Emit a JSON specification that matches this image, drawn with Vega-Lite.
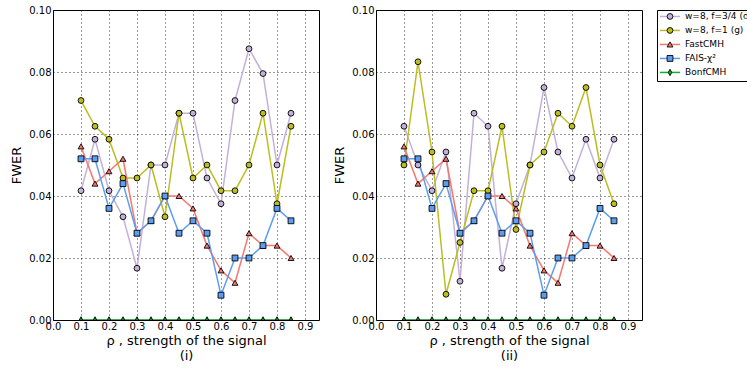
{
  "$schema": "https://vega.github.io/schema/vega-lite/v6.json",
  "padding": {"left": 10, "top": 3, "right": 0, "bottom": 0},
  "background": "white",
  "spacing": 13,
  "datasets": {
    "fwer": [
      {"p":"i","s":"w=8, f=3/4 (d)","r":0.10,"v":0.0417},{"p":"i","s":"w=8, f=3/4 (d)","r":0.15,"v":0.0583},{"p":"i","s":"w=8, f=3/4 (d)","r":0.20,"v":0.0417},{"p":"i","s":"w=8, f=3/4 (d)","r":0.25,"v":0.0333},{"p":"i","s":"w=8, f=3/4 (d)","r":0.30,"v":0.0167},{"p":"i","s":"w=8, f=3/4 (d)","r":0.35,"v":0.05},{"p":"i","s":"w=8, f=3/4 (d)","r":0.40,"v":0.05},{"p":"i","s":"w=8, f=3/4 (d)","r":0.45,"v":0.0667},{"p":"i","s":"w=8, f=3/4 (d)","r":0.50,"v":0.0667},{"p":"i","s":"w=8, f=3/4 (d)","r":0.55,"v":0.0458},{"p":"i","s":"w=8, f=3/4 (d)","r":0.60,"v":0.0375},{"p":"i","s":"w=8, f=3/4 (d)","r":0.65,"v":0.0708},{"p":"i","s":"w=8, f=3/4 (d)","r":0.70,"v":0.0875},{"p":"i","s":"w=8, f=3/4 (d)","r":0.75,"v":0.0795},{"p":"i","s":"w=8, f=3/4 (d)","r":0.80,"v":0.05},{"p":"i","s":"w=8, f=3/4 (d)","r":0.85,"v":0.0667},
      {"p":"i","s":"w=8, f=1 (g)","r":0.10,"v":0.0708},{"p":"i","s":"w=8, f=1 (g)","r":0.15,"v":0.0625},{"p":"i","s":"w=8, f=1 (g)","r":0.20,"v":0.0583},{"p":"i","s":"w=8, f=1 (g)","r":0.25,"v":0.0458},{"p":"i","s":"w=8, f=1 (g)","r":0.30,"v":0.0458},{"p":"i","s":"w=8, f=1 (g)","r":0.35,"v":0.05},{"p":"i","s":"w=8, f=1 (g)","r":0.40,"v":0.0333},{"p":"i","s":"w=8, f=1 (g)","r":0.45,"v":0.0667},{"p":"i","s":"w=8, f=1 (g)","r":0.50,"v":0.0458},{"p":"i","s":"w=8, f=1 (g)","r":0.55,"v":0.05},{"p":"i","s":"w=8, f=1 (g)","r":0.60,"v":0.0417},{"p":"i","s":"w=8, f=1 (g)","r":0.65,"v":0.0417},{"p":"i","s":"w=8, f=1 (g)","r":0.70,"v":0.05},{"p":"i","s":"w=8, f=1 (g)","r":0.75,"v":0.0667},{"p":"i","s":"w=8, f=1 (g)","r":0.80,"v":0.0375},{"p":"i","s":"w=8, f=1 (g)","r":0.85,"v":0.0625},
      {"p":"i","s":"FastCMH","r":0.10,"v":0.056},{"p":"i","s":"FastCMH","r":0.15,"v":0.044},{"p":"i","s":"FastCMH","r":0.20,"v":0.048},{"p":"i","s":"FastCMH","r":0.25,"v":0.052},{"p":"i","s":"FastCMH","r":0.30,"v":0.028},{"p":"i","s":"FastCMH","r":0.35,"v":0.032},{"p":"i","s":"FastCMH","r":0.40,"v":0.04},{"p":"i","s":"FastCMH","r":0.45,"v":0.04},{"p":"i","s":"FastCMH","r":0.50,"v":0.036},{"p":"i","s":"FastCMH","r":0.55,"v":0.024},{"p":"i","s":"FastCMH","r":0.60,"v":0.016},{"p":"i","s":"FastCMH","r":0.65,"v":0.012},{"p":"i","s":"FastCMH","r":0.70,"v":0.028},{"p":"i","s":"FastCMH","r":0.75,"v":0.024},{"p":"i","s":"FastCMH","r":0.80,"v":0.024},{"p":"i","s":"FastCMH","r":0.85,"v":0.02},
      {"p":"i","s":"FAIS-χ²","r":0.10,"v":0.052},{"p":"i","s":"FAIS-χ²","r":0.15,"v":0.052},{"p":"i","s":"FAIS-χ²","r":0.20,"v":0.036},{"p":"i","s":"FAIS-χ²","r":0.25,"v":0.044},{"p":"i","s":"FAIS-χ²","r":0.30,"v":0.028},{"p":"i","s":"FAIS-χ²","r":0.35,"v":0.032},{"p":"i","s":"FAIS-χ²","r":0.40,"v":0.04},{"p":"i","s":"FAIS-χ²","r":0.45,"v":0.028},{"p":"i","s":"FAIS-χ²","r":0.50,"v":0.032},{"p":"i","s":"FAIS-χ²","r":0.55,"v":0.028},{"p":"i","s":"FAIS-χ²","r":0.60,"v":0.008},{"p":"i","s":"FAIS-χ²","r":0.65,"v":0.02},{"p":"i","s":"FAIS-χ²","r":0.70,"v":0.02},{"p":"i","s":"FAIS-χ²","r":0.75,"v":0.024},{"p":"i","s":"FAIS-χ²","r":0.80,"v":0.036},{"p":"i","s":"FAIS-χ²","r":0.85,"v":0.032},
      {"p":"i","s":"BonfCMH","r":0.10,"v":0},{"p":"i","s":"BonfCMH","r":0.15,"v":0},{"p":"i","s":"BonfCMH","r":0.20,"v":0},{"p":"i","s":"BonfCMH","r":0.25,"v":0},{"p":"i","s":"BonfCMH","r":0.30,"v":0},{"p":"i","s":"BonfCMH","r":0.35,"v":0},{"p":"i","s":"BonfCMH","r":0.40,"v":0},{"p":"i","s":"BonfCMH","r":0.45,"v":0},{"p":"i","s":"BonfCMH","r":0.50,"v":0},{"p":"i","s":"BonfCMH","r":0.55,"v":0},{"p":"i","s":"BonfCMH","r":0.60,"v":0},{"p":"i","s":"BonfCMH","r":0.65,"v":0},{"p":"i","s":"BonfCMH","r":0.70,"v":0},{"p":"i","s":"BonfCMH","r":0.75,"v":0},{"p":"i","s":"BonfCMH","r":0.80,"v":0},{"p":"i","s":"BonfCMH","r":0.85,"v":0},
      {"p":"ii","s":"w=8, f=3/4 (d)","r":0.10,"v":0.0625},{"p":"ii","s":"w=8, f=3/4 (d)","r":0.15,"v":0.05},{"p":"ii","s":"w=8, f=3/4 (d)","r":0.20,"v":0.0417},{"p":"ii","s":"w=8, f=3/4 (d)","r":0.25,"v":0.0542},{"p":"ii","s":"w=8, f=3/4 (d)","r":0.30,"v":0.0125},{"p":"ii","s":"w=8, f=3/4 (d)","r":0.35,"v":0.0667},{"p":"ii","s":"w=8, f=3/4 (d)","r":0.40,"v":0.0625},{"p":"ii","s":"w=8, f=3/4 (d)","r":0.45,"v":0.0167},{"p":"ii","s":"w=8, f=3/4 (d)","r":0.50,"v":0.0375},{"p":"ii","s":"w=8, f=3/4 (d)","r":0.55,"v":0.05},{"p":"ii","s":"w=8, f=3/4 (d)","r":0.60,"v":0.075},{"p":"ii","s":"w=8, f=3/4 (d)","r":0.65,"v":0.0542},{"p":"ii","s":"w=8, f=3/4 (d)","r":0.70,"v":0.0458},{"p":"ii","s":"w=8, f=3/4 (d)","r":0.75,"v":0.0583},{"p":"ii","s":"w=8, f=3/4 (d)","r":0.80,"v":0.0458},{"p":"ii","s":"w=8, f=3/4 (d)","r":0.85,"v":0.0583},
      {"p":"ii","s":"w=8, f=1 (g)","r":0.10,"v":0.05},{"p":"ii","s":"w=8, f=1 (g)","r":0.15,"v":0.0833},{"p":"ii","s":"w=8, f=1 (g)","r":0.20,"v":0.0542},{"p":"ii","s":"w=8, f=1 (g)","r":0.25,"v":0.0083},{"p":"ii","s":"w=8, f=1 (g)","r":0.30,"v":0.025},{"p":"ii","s":"w=8, f=1 (g)","r":0.35,"v":0.0417},{"p":"ii","s":"w=8, f=1 (g)","r":0.40,"v":0.0417},{"p":"ii","s":"w=8, f=1 (g)","r":0.45,"v":0.0625},{"p":"ii","s":"w=8, f=1 (g)","r":0.50,"v":0.0292},{"p":"ii","s":"w=8, f=1 (g)","r":0.55,"v":0.05},{"p":"ii","s":"w=8, f=1 (g)","r":0.60,"v":0.0542},{"p":"ii","s":"w=8, f=1 (g)","r":0.65,"v":0.0667},{"p":"ii","s":"w=8, f=1 (g)","r":0.70,"v":0.0625},{"p":"ii","s":"w=8, f=1 (g)","r":0.75,"v":0.075},{"p":"ii","s":"w=8, f=1 (g)","r":0.80,"v":0.05},{"p":"ii","s":"w=8, f=1 (g)","r":0.85,"v":0.0375},
      {"p":"ii","s":"FastCMH","r":0.10,"v":0.056},{"p":"ii","s":"FastCMH","r":0.15,"v":0.044},{"p":"ii","s":"FastCMH","r":0.20,"v":0.048},{"p":"ii","s":"FastCMH","r":0.25,"v":0.052},{"p":"ii","s":"FastCMH","r":0.30,"v":0.028},{"p":"ii","s":"FastCMH","r":0.35,"v":0.032},{"p":"ii","s":"FastCMH","r":0.40,"v":0.04},{"p":"ii","s":"FastCMH","r":0.45,"v":0.04},{"p":"ii","s":"FastCMH","r":0.50,"v":0.036},{"p":"ii","s":"FastCMH","r":0.55,"v":0.024},{"p":"ii","s":"FastCMH","r":0.60,"v":0.016},{"p":"ii","s":"FastCMH","r":0.65,"v":0.012},{"p":"ii","s":"FastCMH","r":0.70,"v":0.028},{"p":"ii","s":"FastCMH","r":0.75,"v":0.024},{"p":"ii","s":"FastCMH","r":0.80,"v":0.024},{"p":"ii","s":"FastCMH","r":0.85,"v":0.02},
      {"p":"ii","s":"FAIS-χ²","r":0.10,"v":0.052},{"p":"ii","s":"FAIS-χ²","r":0.15,"v":0.052},{"p":"ii","s":"FAIS-χ²","r":0.20,"v":0.036},{"p":"ii","s":"FAIS-χ²","r":0.25,"v":0.044},{"p":"ii","s":"FAIS-χ²","r":0.30,"v":0.028},{"p":"ii","s":"FAIS-χ²","r":0.35,"v":0.032},{"p":"ii","s":"FAIS-χ²","r":0.40,"v":0.04},{"p":"ii","s":"FAIS-χ²","r":0.45,"v":0.028},{"p":"ii","s":"FAIS-χ²","r":0.50,"v":0.032},{"p":"ii","s":"FAIS-χ²","r":0.55,"v":0.028},{"p":"ii","s":"FAIS-χ²","r":0.60,"v":0.008},{"p":"ii","s":"FAIS-χ²","r":0.65,"v":0.02},{"p":"ii","s":"FAIS-χ²","r":0.70,"v":0.02},{"p":"ii","s":"FAIS-χ²","r":0.75,"v":0.024},{"p":"ii","s":"FAIS-χ²","r":0.80,"v":0.036},{"p":"ii","s":"FAIS-χ²","r":0.85,"v":0.032},
      {"p":"ii","s":"BonfCMH","r":0.10,"v":0},{"p":"ii","s":"BonfCMH","r":0.15,"v":0},{"p":"ii","s":"BonfCMH","r":0.20,"v":0},{"p":"ii","s":"BonfCMH","r":0.25,"v":0},{"p":"ii","s":"BonfCMH","r":0.30,"v":0},{"p":"ii","s":"BonfCMH","r":0.35,"v":0},{"p":"ii","s":"BonfCMH","r":0.40,"v":0},{"p":"ii","s":"BonfCMH","r":0.45,"v":0},{"p":"ii","s":"BonfCMH","r":0.50,"v":0},{"p":"ii","s":"BonfCMH","r":0.55,"v":0},{"p":"ii","s":"BonfCMH","r":0.60,"v":0},{"p":"ii","s":"BonfCMH","r":0.65,"v":0},{"p":"ii","s":"BonfCMH","r":0.70,"v":0},{"p":"ii","s":"BonfCMH","r":0.75,"v":0},{"p":"ii","s":"BonfCMH","r":0.80,"v":0},{"p":"ii","s":"BonfCMH","r":0.85,"v":0}
    ],
    "series": [
      {"s":"w=8, f=3/4 (d)"},{"s":"w=8, f=1 (g)"},{"s":"FastCMH"},{"s":"FAIS-χ²"},{"s":"BonfCMH"}
    ]
  },
  "hconcat": [
    {
      "width": 266, "height": 310,
      "data": {"name": "fwer"},
      "transform": [{"filter": "datum.p == 'i'"}],
      "encoding": {
        "x": {"field": "r", "type": "quantitative", "scale": {"domain": [0, 0.95], "nice": false, "zero": false},
              "axis": {"values": [0,0.1,0.2,0.3,0.4,0.5,0.6,0.7,0.8,0.9], "format": ".1f", "title": ["ρ , strength of the signal", "(i)"]}},
        "y": {"field": "v", "type": "quantitative", "scale": {"domain": [0, 0.1], "nice": false},
              "axis": {"values": [0,0.02,0.04,0.06,0.08,0.1], "format": ".2f", "title": "FWER"}}
      },
      "layer": [
        {"mark": {"type": "line", "strokeWidth": 1.5, "clip": true},
         "encoding": {"color": {"field": "s", "type": "nominal", "legend": null,
            "scale": {"domain": ["w=8, f=3/4 (d)","w=8, f=1 (g)","FastCMH","FAIS-χ²","BonfCMH"], "range": ["#c4b1d9","#bcbd22","#f7786f","#5c9df2","#0b8a28"]}}}},
        {"mark": {"type": "point", "filled": true, "stroke": "black", "strokeWidth": 0.9, "size": 34, "opacity": 1, "clip": true},
         "encoding": {
           "fill": {"field": "s", "type": "nominal", "legend": null,
             "scale": {"domain": ["w=8, f=3/4 (d)","w=8, f=1 (g)","FastCMH","FAIS-χ²","BonfCMH"], "range": ["#c4b1d9","#bcbd22","#f7786f","#5c9df2","#0b8a28"]}},
           "shape": {"field": "s", "type": "nominal", "legend": null,
             "scale": {"domain": ["w=8, f=3/4 (d)","w=8, f=1 (g)","FastCMH","FAIS-χ²","BonfCMH"], "range": ["circle","circle","triangle-up","square","M0,-1.1L0.6,0L0,1.1L-0.6,0Z"]}}
         }}
      ]
    },
    {
      "width": 266, "height": 310,
      "data": {"name": "fwer"},
      "transform": [{"filter": "datum.p == 'ii'"}],
      "encoding": {
        "x": {"field": "r", "type": "quantitative", "scale": {"domain": [0, 0.95], "nice": false, "zero": false},
              "axis": {"values": [0,0.1,0.2,0.3,0.4,0.5,0.6,0.7,0.8,0.9], "format": ".1f", "title": ["ρ , strength of the signal", "(ii)"]}},
        "y": {"field": "v", "type": "quantitative", "scale": {"domain": [0, 0.1], "nice": false},
              "axis": {"values": [0,0.02,0.04,0.06,0.08,0.1], "format": ".2f", "title": "FWER"}}
      },
      "layer": [
        {"mark": {"type": "line", "strokeWidth": 1.5, "clip": true},
         "encoding": {"color": {"field": "s", "type": "nominal", "legend": null,
            "scale": {"domain": ["w=8, f=3/4 (d)","w=8, f=1 (g)","FastCMH","FAIS-χ²","BonfCMH"], "range": ["#c4b1d9","#bcbd22","#f7786f","#5c9df2","#0b8a28"]}}}},
        {"mark": {"type": "point", "filled": true, "stroke": "black", "strokeWidth": 0.9, "size": 34, "opacity": 1, "clip": true},
         "encoding": {
           "fill": {"field": "s", "type": "nominal", "legend": null,
             "scale": {"domain": ["w=8, f=3/4 (d)","w=8, f=1 (g)","FastCMH","FAIS-χ²","BonfCMH"], "range": ["#c4b1d9","#bcbd22","#f7786f","#5c9df2","#0b8a28"]}},
           "shape": {"field": "s", "type": "nominal", "legend": null,
             "scale": {"domain": ["w=8, f=3/4 (d)","w=8, f=1 (g)","FastCMH","FAIS-χ²","BonfCMH"], "range": ["circle","circle","triangle-up","square","M0,-1.1L0.6,0L0,1.1L-0.6,0Z"]}}
         }}
      ]
    },
    {
      "width": 100, "height": 71,
      "title": {"text": " ", "fontSize": 1, "offset": 5},
      "data": {"name": "series"},
      "encoding": {
        "y": {"field": "s", "type": "nominal", "axis": null,
              "scale": {"type": "point", "padding": 0.536, "align": 0.43, "domain": ["w=8, f=3/4 (d)","w=8, f=1 (g)","FastCMH","FAIS-χ²","BonfCMH"]}}
      },
      "layer": [
        {"mark": {"type": "rule", "strokeWidth": 1.5},
         "encoding": {
           "x": {"datum": 3, "type": "quantitative", "scale": {"domain": [0, 100], "nice": false}, "axis": null},
           "x2": {"datum": 23},
           "color": {"field": "s", "type": "nominal", "legend": null,
             "scale": {"domain": ["w=8, f=3/4 (d)","w=8, f=1 (g)","FastCMH","FAIS-χ²","BonfCMH"], "range": ["#c4b1d9","#bcbd22","#f7786f","#5c9df2","#11b030"]}}
         }},
        {"mark": {"type": "point", "filled": true, "stroke": "black", "strokeWidth": 0.9, "size": 34, "opacity": 1},
         "encoding": {
           "x": {"datum": 13, "type": "quantitative"},
           "fill": {"field": "s", "type": "nominal", "legend": null,
             "scale": {"domain": ["w=8, f=3/4 (d)","w=8, f=1 (g)","FastCMH","FAIS-χ²","BonfCMH"], "range": ["#c4b1d9","#bcbd22","#f7786f","#5c9df2","#11b030"]}},
           "shape": {"field": "s", "type": "nominal", "legend": null,
             "scale": {"domain": ["w=8, f=3/4 (d)","w=8, f=1 (g)","FastCMH","FAIS-χ²","BonfCMH"], "range": ["circle","circle","triangle-up","square","M0,-1.1L0.6,0L0,1.1L-0.6,0Z"]}}
         }},
        {"mark": {"type": "text", "align": "left", "baseline": "middle", "font": "DejaVu Sans", "fontSize": 9, "color": "black", "clip": true},
         "encoding": {
           "x": {"datum": 28, "type": "quantitative"},
           "text": {"field": "s"}
         }}
      ]
    }
  ],
  "resolve": {"scale": {"color": "independent", "fill": "independent", "shape": "independent"}},
  "config": {
    "view": {"stroke": "black", "strokeWidth": 1},
    "title": {"color": "white"},
    "axis": {
      "grid": true, "gridColor": "black", "gridDash": [1, 3], "gridOpacity": 1, "gridWidth": 0.8,
      "domain": false, "ticks": false, "labelFlush": false,
      "labelFont": "DejaVu Sans", "labelFontSize": 10, "labelColor": "black", "labelPadding": 2,
      "titleFont": "DejaVu Sans", "titleFontSize": 13, "titleFontWeight": "normal", "titleColor": "black",
      "titlePadding": 5, "titleLineHeight": 15
    },
    "axisX": {"labelPadding": 1, "titlePadding": 3, "labelOverlap": false}
  }
}
